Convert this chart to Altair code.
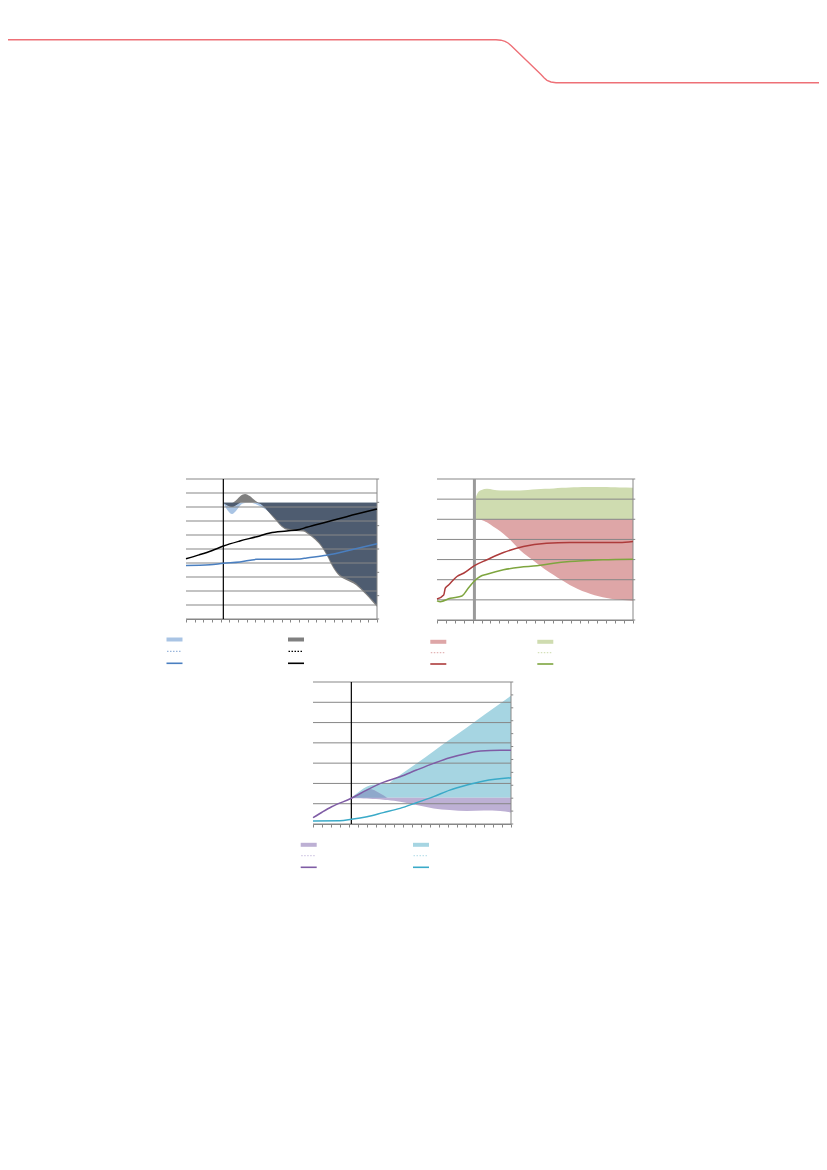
import altair as alt
import pandas as pd

# ---------------- header decoration (page pixels) ----------------
header_x = [0, 496, 501, 505, 508, 511, 541, 544, 547, 551, 556, 827]
header_y = [39.7, 39.7, 40.2, 41.3, 43.0, 45.5, 74.5, 77.8, 80.3, 82.0, 82.7, 82.7]

# ---------------- chart 1 ----------------
c1_black_x = [0, 1.5, 2.96, 4.3, 6.2, 8.14, 9.68, 11.6, 13.1, 13.9, 16.2, 18.5, 22]
c1_black_y = [4.3, 4.58, 4.88, 5.21, 5.57, 5.88, 6.15, 6.29, 6.4, 6.55, 6.93, 7.31, 7.85]
c1_blue_x = [0, 2.76, 4.3, 6.2, 8.14, 10.5, 13.1, 13.9, 16.2, 19.3, 22]
c1_blue_y = [3.83, 3.88, 3.98, 4.07, 4.26, 4.27, 4.29, 4.36, 4.55, 4.98, 5.38]
c1_band_x = [4.3, 4.8, 5.3, 5.8, 6.3, 6.8, 7.3, 8.0, 8.5, 9.1, 9.7, 10.3, 10.8, 11.6, 12.5,
             13.5, 14.3, 15.1, 15.7, 16.2, 17.0, 17.5, 18.1, 18.7, 19.3, 19.9, 20.4, 21.0, 21.5, 22.0]
c1_blue_lo = [8.3, 7.75, 7.5, 7.75, 8.15, 8.28, 8.3, 8.22, 8.07, 7.85, 7.55, 7.2, 6.83, 6.48, 6.4,
              6.36, 6.05, 5.64, 5.2, 4.69, 3.74, 3.3, 3.02, 2.85, 2.67, 2.38, 2.07, 1.7, 1.35, 1.0]
c1_blue_hi = [8.3, 8.3, 8.3, 8.3, 8.3, 8.3, 8.3, 8.3, 8.3, 8.3, 8.3, 8.3, 8.3, 8.3, 8.3,
              8.3, 8.3, 8.3, 8.3, 8.3, 8.3, 8.3, 8.3, 8.3, 8.3, 8.3, 8.3, 8.3, 8.3, 8.3]
c1_gray_lo = [8.3, 8.1, 8.0, 8.15, 8.3, 8.3, 8.3, 8.3, 8.25, 7.95, 7.5, 7.08, 6.72, 6.37, 6.29,
              6.25, 5.94, 5.52, 5.08, 4.56, 3.6, 3.17, 2.89, 2.72, 2.54, 2.25, 1.94, 1.57, 1.22, 0.88]
c1_gray_hi = [8.3, 8.3, 8.3, 8.5, 8.8, 8.93, 8.8, 8.45, 8.3, 8.3, 8.3, 8.3, 8.3, 8.3, 8.3,
              8.3, 8.3, 8.3, 8.3, 8.3, 8.3, 8.3, 8.3, 8.3, 8.3, 8.3, 8.3, 8.3, 8.3, 8.3]
c1_grid = [0, 1, 2, 3, 4, 5, 6, 7, 8, 9, 10]
c1_right = [0, 1, 2, 3, 4, 5, 6]
c1_vline = 4.3

# ---------------- chart 2 ----------------
c2_red_x = [0, 0.75, 0.93, 1.3, 2.24, 2.98, 4.2, 5.6, 7.46, 9.7, 12.3, 14.9, 20.5, 22]
c2_red_y = [1.04, 1.24, 1.58, 1.74, 2.16, 2.32, 2.7, 2.99, 3.35, 3.65, 3.81, 3.85, 3.85, 3.9]
c2_green_x = [0, 0.37, 1.49, 2.8, 3.36, 4.2, 4.85, 5.6, 7.46, 9.32, 11.2, 13.1, 14.9, 16.8, 18.6, 22]
c2_green_y = [0.95, 0.91, 1.08, 1.19, 1.49, 1.94, 2.16, 2.27, 2.49, 2.62, 2.69, 2.82, 2.9, 2.95, 2.99, 3.02]
c2_band_x = [4.2, 4.28, 4.47, 4.85, 5.0, 5.6, 6.3, 7.1, 7.8, 8.5, 9.3, 10.2, 11.2, 12.1, 13.1,
             14.0, 14.9, 15.8, 16.8, 17.7, 18.6, 19.5, 20.5, 22.0]
c2_green_hi = [5.0, 5.8, 6.22, 6.43, 6.46, 6.51, 6.47, 6.43, 6.43, 6.43, 6.43, 6.46, 6.49, 6.51, 6.53,
               6.56, 6.58, 6.59, 6.6, 6.6, 6.6, 6.59, 6.58, 6.57]
c2_mid = [5.0, 5.0, 5.0, 5.0, 5.0, 5.0, 5.0, 5.0, 5.0, 5.0, 5.0, 5.0, 5.0, 5.0, 5.0,
          5.0, 5.0, 5.0, 5.0, 5.0, 5.0, 5.0, 5.0, 5.0]
c2_red_lo = [5.0, 5.0, 5.0, 4.98, 4.97, 4.85, 4.64, 4.4, 4.15, 3.85, 3.48, 3.15, 2.82, 2.52, 2.24,
             1.98, 1.74, 1.54, 1.36, 1.23, 1.13, 1.06, 1.0, 0.95]
c2_grid = [0, 1, 2, 3, 4, 5, 6, 7]
c2_right = [0, 1, 2, 3, 4, 5, 6, 7]
c2_vline = 4.2

# ---------------- chart 3 ----------------
c3_purple_x = [0, 1, 2.07, 4.26, 5.96, 7.8, 9.67, 11.5, 13.4, 15.2, 17.1, 18.6, 20.8, 22]
c3_purple_y = [0.31, 0.58, 0.85, 1.27, 1.67, 2.05, 2.33, 2.66, 2.99, 3.27, 3.48, 3.6, 3.63, 3.63]
c3_cyan_x = [0, 3.0, 4.26, 6.0, 7.8, 9.67, 11.5, 13.4, 15.2, 17.1, 19.0, 22]
c3_cyan_y = [0.15, 0.16, 0.23, 0.36, 0.56, 0.77, 1.05, 1.35, 1.67, 1.92, 2.12, 2.28]
c3_band_x = [4.26, 5.0, 5.6, 6.3, 7.0, 7.8, 8.3, 9.0, 9.67, 11.5, 13.4, 15.2, 17.1, 19.0, 20.8, 22.0]
c3_cyan_lo = [1.3, 1.3, 1.3, 1.3, 1.3, 1.3, 1.3, 1.3, 1.3, 1.3, 1.3, 1.3, 1.3, 1.3, 1.3, 1.3]
c3_cyan_hi = [1.3, 1.55, 1.75, 1.9, 1.95, 1.97, 1.98, 2.2, 2.41, 2.98, 3.59, 4.16, 4.76, 5.37, 5.94, 6.32]
c3_purple_lo = [1.27, 1.27, 1.26, 1.25, 1.23, 1.2, 1.18, 1.14, 1.1, 0.94, 0.77, 0.69, 0.64, 0.66, 0.64, 0.57]
c3_purple_hi = [1.3, 1.45, 1.6, 1.72, 1.62, 1.42, 1.3, 1.3, 1.3, 1.3, 1.3, 1.3, 1.3, 1.3, 1.3, 1.3]
c3_grid = [0, 1, 2, 3, 4, 5, 6, 7]
c3_right = [0, 1, 2, 3, 4, 5, 6, 7, 8, 9, 10, 11]
c3_vline = 4.26

x_ticks = list(range(23))
X_MAX = 22
AX = "#878787"


def overlap(x, lo_a, hi_a, lo_b, hi_b):
    lo = [max(a, b) for a, b in zip(lo_a, lo_b)]
    hi = [min(a, b) for a, b in zip(hi_a, hi_b)]
    hi = [h if h > l else l for l, h in zip(lo, hi)]
    return pd.DataFrame({"x": x, "lo": lo, "hi": hi})


def band_df(x, lo, hi):
    return pd.DataFrame({"x": x, "lo": lo, "hi": hi})


def line_df(x, y):
    return pd.DataFrame({"x": x, "y": y})


def panel(bands, lines, grid, right, vline, vcolor, vwidth, w, h, leg):
    ymax = grid[-1]
    xs = alt.Scale(domain=[0, X_MAX], nice=False, zero=False)
    ys = alt.Scale(domain=[0, ymax], nice=False, zero=False)
    xax = alt.Axis(values=x_ticks, labels=False, grid=False, tickSize=3,
                   tickColor=AX, domainColor=AX, title=None)
    X = alt.X("x:Q", scale=xs, axis=xax)
    Y = alt.Y("y:Q", scale=ys, axis=None)
    layers = []
    for df, col in bands:
        layers.append(alt.Chart(df).mark_area(color=col, opacity=1, interpolate="monotone").encode(
            x=X, y=alt.Y("lo:Q", scale=ys, axis=None), y2="hi:Q"))
    # horizontal gridlines + left axis
    layers.append(alt.Chart(pd.DataFrame({"g": grid})).mark_rule(color=AX, strokeWidth=1).encode(
        y=alt.Y("g:Q", scale=ys,
                axis=alt.Axis(values=grid, labels=False, grid=False, tickSize=3, tickColor=AX,
                              domainColor=AX, title=None))))
    # forecast-start vertical line
    layers.append(alt.Chart(pd.DataFrame({"x": [vline]})).mark_rule(
        color=vcolor, strokeWidth=vwidth).encode(x=X))
    # right-hand secondary axis: domain line and small outward ticks (right scale mapped onto ymax)
    rdf = pd.DataFrame({"x": [X_MAX for _ in right], "x2": [X_MAX + 0.25 for _ in right],
                        "y": [v * ymax / right[-1] for v in right]})
    layers.append(alt.Chart(pd.DataFrame({"x": [X_MAX]})).mark_rule(color=AX, strokeWidth=1).encode(x=X))
    layers.append(alt.Chart(rdf).mark_rule(color=AX, strokeWidth=1).encode(x=X, x2="x2:Q", y=Y))
    for df, col in lines:
        layers.append(alt.Chart(df).mark_line(color=col, strokeWidth=1.5, interpolate="monotone").encode(
            x=X, y=Y))
    # legend swatches below the plot (pixel offsets converted to the panel's data units)
    xpix, ypix, band_cols, dot_cols, line_cols = leg
    lx = [p * X_MAX / w for p in xpix]
    ly = [ymax - p * ymax / h for p in ypix]

    def ldf(i, colors):
        return pd.DataFrame({"x": lx, "y": [ly[i], ly[i]], "c": colors})

    S = alt.Color("c:N", scale=None)
    layers.append(alt.Chart(ldf(0, band_cols)).mark_point(
        shape="stroke", size=256, strokeWidth=4, filled=False, opacity=1).encode(x=X, y=Y, stroke=S))
    layers.append(alt.Chart(ldf(1, dot_cols)).mark_point(
        shape="stroke", size=225, strokeWidth=1.2, strokeDash=[1.5, 1.5], filled=False,
        opacity=1).encode(x=X, y=Y, stroke=S))
    layers.append(alt.Chart(ldf(2, line_cols)).mark_point(
        shape="stroke", size=256, strokeWidth=1.6, filled=False, opacity=1).encode(x=X, y=Y, stroke=S))
    return alt.layer(*layers).properties(width=w, height=h)


def spacer(w, h):
    return alt.Chart(pd.DataFrame({"a": [0], "b": [0]})).mark_point(opacity=0, size=0).encode(
        x=alt.X("a:Q", axis=None), y=alt.Y("b:Q", axis=None)).properties(width=w, height=h)


# chart 1
c1 = panel(
    bands=[(band_df(c1_band_x, c1_blue_lo, c1_blue_hi), "#a9c4e4"),
           (band_df(c1_band_x, c1_gray_lo, c1_gray_hi), "#7f7f7f"),
           (overlap(c1_band_x, c1_blue_lo, c1_blue_hi, c1_gray_lo, c1_gray_hi), "#4e5c70")],
    lines=[(line_df(c1_black_x, c1_black_y), "#000000"),
           (line_df(c1_blue_x, c1_blue_y), "#4a7fc0")],
    grid=c1_grid, right=c1_right, vline=c1_vline, vcolor="#000000", vwidth=1.2, w=191, h=140,
    leg=([-11.5, 110], [160.5, 172.3, 184.3],
         ["#a9c4e4", "#808080"], ["#9ab6dc", "#000000"], ["#4a7fc0", "#000000"]))

# chart 2
c2 = panel(
    bands=[(band_df(c2_band_x, c2_mid, c2_green_hi), "#cfdcb0"),
           (band_df(c2_band_x, c2_red_lo, c2_mid), "#dea6a7")],
    lines=[(line_df(c2_red_x, c2_red_y), "#ad3b3b"),
           (line_df(c2_green_x, c2_green_y), "#7ea53f")],
    grid=c2_grid, right=c2_right, vline=c2_vline, vcolor="#9a9a9a", vwidth=3, w=196, h=141,
    leg=([1.3, 108.3], [162.8, 173.7, 185.0],
         ["#dea6a7", "#cfdcb0"], ["#e3b5b6", "#d5e1bb"], ["#ad3b3b", "#7ea53f"]))

# chart 3
c3 = panel(
    bands=[(band_df(c3_band_x, c3_cyan_lo, c3_cyan_hi), "#a6d5e2"),
           (band_df(c3_band_x, c3_purple_lo, c3_purple_hi), "#bdb0d4"),
           (overlap(c3_band_x, c3_cyan_lo, c3_cyan_hi, c3_purple_lo, c3_purple_hi), "#8ea8cb")],
    lines=[(line_df(c3_purple_x, c3_purple_y), "#7f5ca5"),
           (line_df(c3_cyan_x, c3_cyan_y), "#3aaac8")],
    grid=c3_grid, right=c3_right, vline=c3_vline, vcolor="#000000", vwidth=1.2, w=198, h=142,
    leg=([-4.3, 108], [162.8, 173.7, 185.3],
         ["#bdb0d4", "#a6d5e2"], ["#d2c9e4", "#bfe2ec"], ["#7f5ca5", "#3aaac8"]))

header = alt.Chart(pd.DataFrame({"x": header_x, "y": header_y})).mark_line(
    color="#ee7077", strokeWidth=1.4, clip=True).encode(
    x=alt.X("x:Q", scale=alt.Scale(domain=[8, 819], nice=False, zero=False), axis=None),
    y=alt.Y("y:Q", scale=alt.Scale(domain=[8, 464], nice=False, zero=False, reverse=True), axis=None),
).properties(width=811, height=456)

row1 = alt.hconcat(spacer(178, 10), c1, spacer(60, 10), c2, spacing=0, bounds="flush")
row2 = alt.hconcat(spacer(305, 10), c3, spacing=0, bounds="flush")

chart = alt.vconcat(header, row1, row2, spacing=13).properties(
    padding=0).configure_view(stroke=None)

chart.save("out.html", embed_options={"renderer": "svg", "actions": False})
